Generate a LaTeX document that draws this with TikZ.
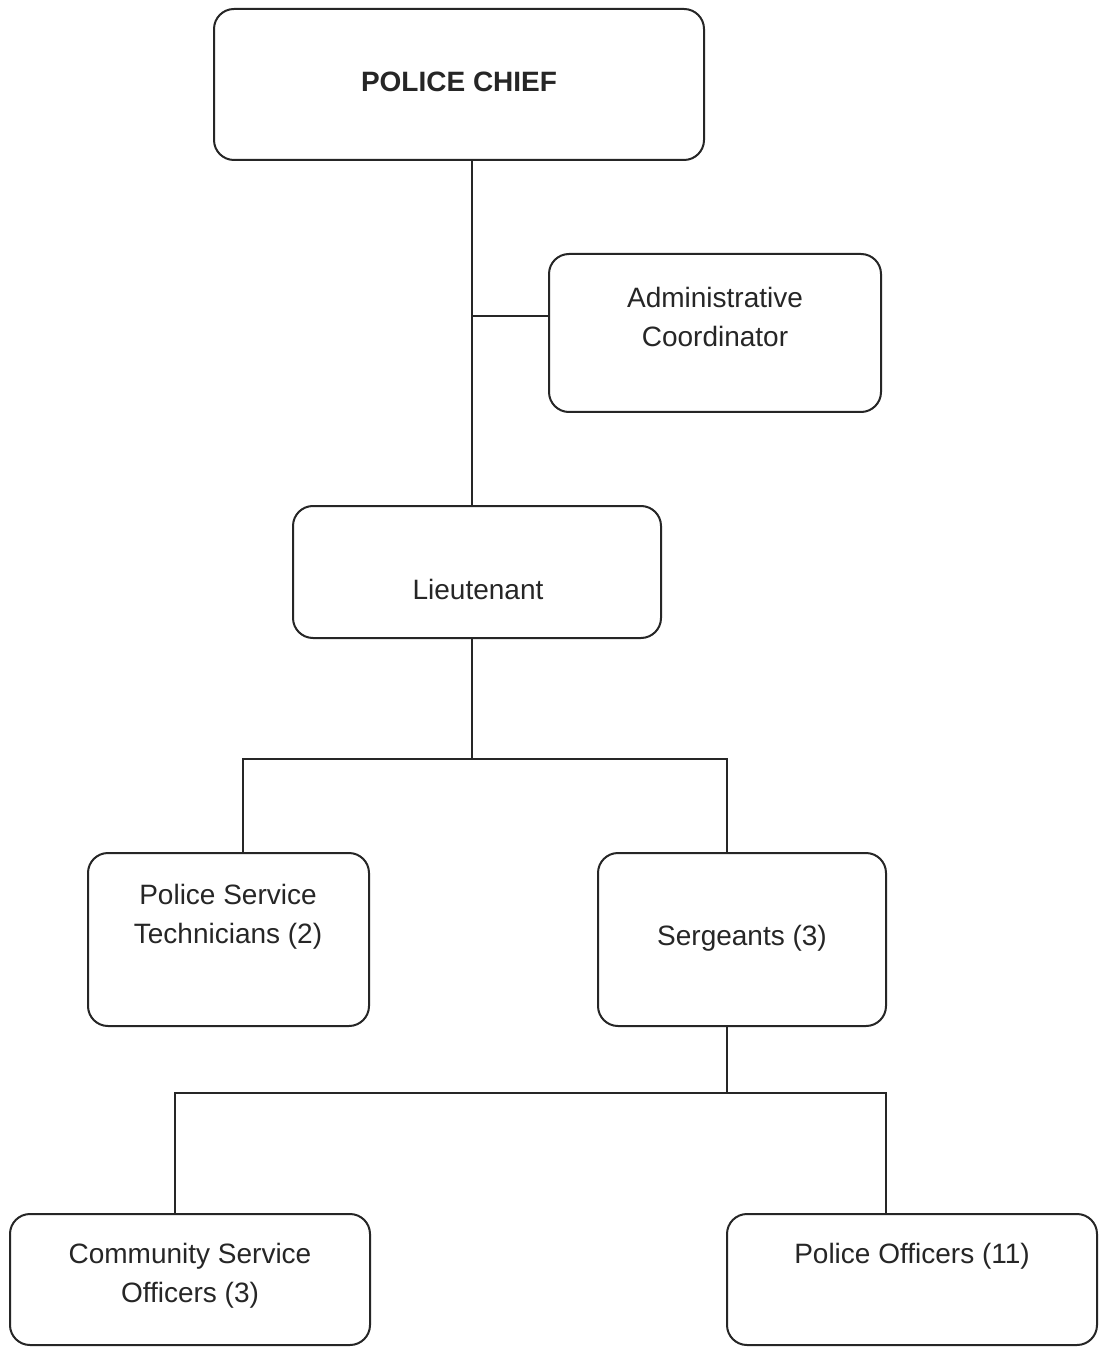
\documentclass[tikz,border=0pt]{standalone}
\usepackage{fontspec}
\setmainfont{Liberation Sans}
\begin{document}
\begin{tikzpicture}[x=0.5pt,y=-0.5pt,
  box/.style={draw=black!85, line width=1pt, rounded corners=10pt, rectangle, inner sep=0pt},
  txt/.style={text=black!85, font=\fontsize{14}{19.5}\selectfont, align=center, inner sep=0pt},
  conn/.style={draw=black!85, line width=1pt}]
\fill[white] (0,0) rectangle (1100,1347);
\useasboundingbox (0,0) rectangle (1100,1347);
% boxes
\node[box, minimum width=245pt, minimum height=75.5pt] (chief) at (459,84.5) {};
\node[box, minimum width=166pt, minimum height=79pt] (admin) at (715,333) {};
\node[box, minimum width=184pt, minimum height=66pt] (lieu) at (477,572) {};
\node[box, minimum width=140.5pt, minimum height=86.5pt] (pst) at (228.5,939.5) {};
\node[box, minimum width=144pt, minimum height=86.5pt] (sgt) at (742,939.5) {};
\node[box, minimum width=180pt, minimum height=65.5pt] (cso) at (190,1279.5) {};
\node[box, minimum width=185pt, minimum height=65.5pt] (po) at (912,1279.5) {};
% texts
\node[txt, font=\fontsize{14}{19.5}\selectfont\bfseries] (chief-t) at (459,82) {POLICE CHIEF};
\node[txt] (admin-t) at (715,316.5) {Administrative\\Coordinator};
\node[txt] (lieu-t) at (478,589) {Lieutenant};
\node[txt] (pst-t) at (228,916.5) {Police Service\\Technicians (2)};
\node[txt] (sgt-t) at (742,938) {Sergeants (3)};
\node[txt] (cso-t) at (190,1276) {Community Service\\Officers (3)};
\node[txt] (po-t) at (912,1256) {Police Officers (11)};
% junctions
\coordinate (j1) at (472,316);
\coordinate (j2) at (472,759);
\coordinate (j2l) at (243,759);
\coordinate (j2r) at (727,759);
\coordinate (j3) at (727,1093);
\coordinate (j3l) at (175,1093);
\coordinate (j3r) at (886,1093);
% connectors
\draw[conn] (chief.south -| j1) -- (lieu.north -| j1);
\draw[conn] (j1) -- (admin.west |- j1);
\draw[conn] (lieu.south -| j2) -- (j2);
\draw[conn] (pst.north -| j2l) -- (j2l) -- (j2r) -- (sgt.north -| j2r);
\draw[conn] (sgt.south -| j3) -- (j3);
\draw[conn] (cso.north -| j3l) -- (j3l) -- (j3r) -- (po.north -| j3r);
\end{tikzpicture}
\end{document}
